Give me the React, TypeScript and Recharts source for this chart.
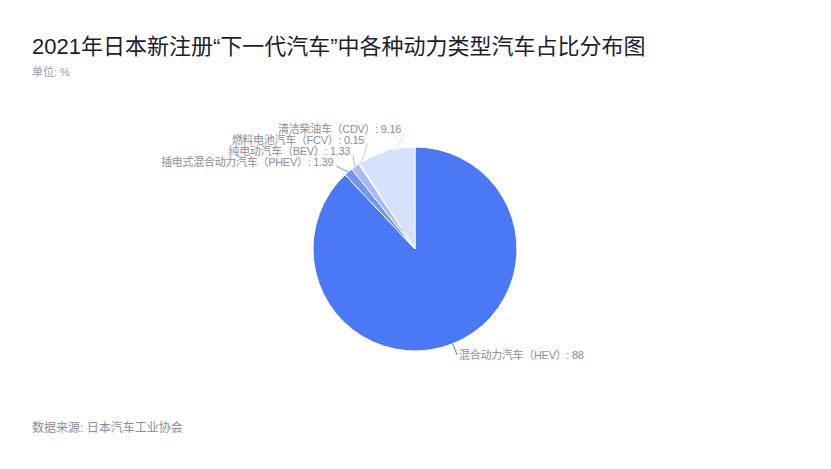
import React from 'react';
import { PieChart, Pie, Cell } from 'recharts';

const names = [
  '混合动力汽车（HEV）',
  '插电式混合动力汽车（PHEV）',
  '纯电动汽车（BEV）',
  '燃料电池汽车（FCV）',
  '清洁柴油车（CDV）',
];
const values = [88, 1.39, 1.33, 0.15, 9.16];
const colors = ['#4b78f5', '#7495f7', '#a6bafa', '#c2d0fb', '#d7e1fb'];

const data = names.map((name, i) => ({ name, value: values[i] }));

const RAD = Math.PI / 180;
const labelColor = '#8c8c9c';

const renderLabel = (props: any) => {
  const { cx, cy, midAngle, outerRadius, index, name, value } = props;
  const cos = Math.cos(-midAngle * RAD);
  const sin = Math.sin(-midAngle * RAD);
  const sx = cx + outerRadius * cos;
  const sy = cy + outerRadius * sin;
  const stroke = colors[index];

  if (index === 0) {
    // big slice: short line out, text to the right
    const ex = cx + (outerRadius + 12) * cos;
    const ey = cy + (outerRadius + 12) * sin;
    return (
      <g>
        <path d={`M${sx},${sy}L${ex},${ey}`} stroke={stroke} fill="none" strokeWidth={1} />
        <text x={ex + 2} y={ey} fill={labelColor} fontSize={11} letterSpacing={-0.3} textAnchor="start" dominantBaseline="central">
          {`${name}: ${value}`}
        </text>
      </g>
    );
  }

  // small slices at upper left: stacked labels
  const ty = cy - outerRadius + 15 - (index - 1) * 11;
  const tx = sx - 15 + (index - 1) * 10;
  const ex = tx + 3;
  const ey = ty + 4;
  const mx = (sx + ex) / 2 + (index === 4 ? 6 : 0);
  const my = Math.max(sy, ey) - 2;
  return (
    <g>
      <path d={`M${sx},${sy}Q${mx},${my} ${ex},${ey}`} stroke={stroke} fill="none" strokeWidth={1} />
      <text x={tx} y={ty} fill={labelColor} fontSize={11} letterSpacing={-0.3} textAnchor="end" dominantBaseline="central">
        {`${name}: ${value}`}
      </text>
    </g>
  );
};

export default function App() {
  const font = '"Liberation Sans", "Noto Sans CJK SC", sans-serif';
  return (
    <div style={{ position: 'fixed', left: 0, top: 0, width: 831, height: 469, background: '#fff', fontFamily: font }}>
      <div style={{ position: 'absolute', left: 32, top: 30, fontSize: 22, color: '#1c1c30', lineHeight: '34px', whiteSpace: 'nowrap' }}>
        2021年日本新注册“下一代汽车”中各种动力类型汽车占比分布图
      </div>
      <div style={{ position: 'absolute', left: 32, top: 64, fontSize: 11, color: '#9a9aa6', lineHeight: '16px' }}>
        单位: %
      </div>
      <div style={{ position: 'absolute', left: 0, top: 0 }}>
        <PieChart width={831} height={469} margin={{ top: 0, right: 0, bottom: 0, left: 0 }} style={{ fontFamily: font }}>
          <Pie
            data={data}
            dataKey="value"
            nameKey="name"
            cx={415}
            cy={249}
            outerRadius={102}
            startAngle={90}
            endAngle={-270}
            stroke="#fff"
            strokeWidth={1}
            label={renderLabel}
            labelLine={false}
            isAnimationActive={false}
          >
            {data.map((d, i) => (
              <Cell key={d.name} fill={colors[i]} />
            ))}
          </Pie>
        </PieChart>
      </div>
      <div style={{ position: 'absolute', left: 32, top: 419, fontSize: 12, color: '#8c8c9c', lineHeight: '18px' }}>
        数据来源: 日本汽车工业协会
      </div>
    </div>
  );
}
